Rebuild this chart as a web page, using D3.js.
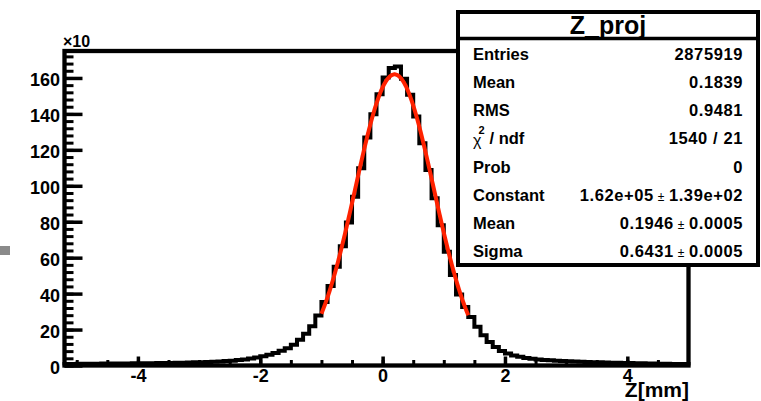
<!DOCTYPE html>
<html>
<head>
<meta charset="utf-8">
<script src="https://cdn.jsdelivr.net/npm/d3@7"></script>
<style>
body { margin: 0; background: #fff; }
svg { display: block; font-family: "Liberation Sans", Arial, Helvetica, sans-serif; font-weight: bold; }
</style>
</head>
<body>
<div id="chart"></div>
<script>
// Z_proj histogram, bins of 0.1 starting at -5.2, counts in units of 10^3
var binStart = -5.2;
var binWidth = 0.1;
var counts = [
  0.9, 0.9, 0.95, 0.95, 1.0, 1.0, 1.05, 1.05, 1.1, 1.1,
  1.15, 1.2, 1.2, 1.25, 1.3, 1.35, 1.4, 1.45, 1.5, 1.6,
  1.65, 1.75, 1.85, 1.95, 2.1, 2.25, 2.45, 2.7, 3.0, 3.4,
  3.9, 4.5, 5.2, 6.0, 7.0, 8.2, 9.6, 11.5, 14.3, 17.6,
  21.8, 27.8,
  35.4, 44.3, 54.9, 66.4, 79.6, 93.9, 109.7, 126.8, 139.8, 151.0,
  160.3, 165.6, 166.4, 159.5, 150.6, 138.5, 123.6, 108.8, 93.0, 78.1,
  63.3, 50.3, 39.5, 32.5,
  27.0, 21.5, 16.8, 13.1, 10.3, 8.1, 6.7, 5.6, 4.8, 4.2,
  3.7, 3.35, 3.1, 2.9, 2.7, 2.5, 2.35, 2.2, 2.05, 1.95,
  1.85, 1.75, 1.65, 1.55, 1.5, 1.4, 1.35, 1.3, 1.2, 1.15,
  1.1, 1.0, 0.95, 0.9, 0.85, 0.8
];

// gaussian fit: constant (x10^3), mean, sigma and fit range
var fitParams = [162, 0.1946, 0.6431];
var fitRange = [-1.0, 1.4];

var xTicks = [-4, -2, 0, 2, 4];
var yTicks = [0, 20, 40, 60, 80, 100, 120, 140, 160];

var statTitle = "Z_proj";
var statLabels = ["Entries", "Mean", "RMS", "chi2", "Prob", "Constant", "Mean", "Sigma"];
var statValues = ["2875919", "0.1839", "0.9481", "1540 / 21", "0",
                  "1.62e+05 ± 1.39e+02", "0.1946 ± 0.0005", "0.6431 ± 0.0005"];

var width = 761, height = 401;
var frame = { left: 64.5, right: 688.5, top: 51, bottom: 365.5 };

var svg = d3.select("#chart")
  .append("svg")
  .attr("width", width)
  .attr("height", height);

var x = d3.scaleLinear()
  .domain([binStart, binStart + counts.length * binWidth])
  .range([frame.left, frame.right]);

var y = d3.scaleLinear()
  .domain([0, 175])
  .range([frame.bottom, frame.top]);

// little grey pad marker on the far left
svg.append("rect")
  .attr("x", 0).attr("y", 246)
  .attr("width", 10).attr("height", 9)
  .attr("fill", "#8a8a8a");

// histogram outline
var steps = [[x.domain()[0], 0]];
counts.forEach(function (c, i) {
  steps.push([binStart + i * binWidth, c]);
});
steps.push([x.domain()[1], counts[counts.length - 1]]);
steps.push([x.domain()[1], 0]);

svg.append("path")
  .datum(steps)
  .attr("fill", "none")
  .attr("stroke", "#000")
  .attr("stroke-width", 4)
  .attr("d", d3.line()
    .x(function (d) { return x(d[0]); })
    .y(function (d) { return y(d[1]); })
    .curve(d3.curveStepAfter));

// fitted gaussian
var fitPts = d3.range(fitRange[0], fitRange[1] + 1e-9, 0.01).map(function (v) {
  var z = (v - fitParams[1]) / fitParams[2];
  return [v, fitParams[0] * Math.exp(-0.5 * z * z)];
});
svg.append("path")
  .datum(fitPts)
  .attr("fill", "none")
  .attr("stroke", "#ff2200")
  .attr("stroke-width", 4)
  .attr("d", d3.line()
    .x(function (d) { return x(d[0]); })
    .y(function (d) { return y(d[1]); }));

// x axis
var xAxis = svg.append("g")
  .attr("transform", "translate(0," + frame.bottom + ")")
  .call(d3.axisBottom(x).tickValues(xTicks).tickSizeInner(-9).tickSizeOuter(0).tickPadding(4)
    .tickFormat(function (d) { return d; }));
svg.append("g")
  .attr("transform", "translate(0," + frame.bottom + ")")
  .call(d3.axisBottom(x).tickValues(d3.range(-5, 5, 0.5)).tickSizeInner(-5.5).tickSizeOuter(0).tickFormat(""))
  .attr("class", "minor");

// y axis
var yAxis = svg.append("g")
  .attr("transform", "translate(" + frame.left + ",0)")
  .call(d3.axisLeft(y).tickValues(yTicks).tickSizeInner(-18).tickSizeOuter(0).tickPadding(4.5));
svg.append("g")
  .attr("transform", "translate(" + frame.left + ",0)")
  .call(d3.axisLeft(y).tickValues(d3.range(0, 175, 4)).tickSizeInner(-9).tickSizeOuter(0).tickFormat(""))
  .attr("class", "minor");

svg.selectAll(".domain").remove();
svg.selectAll(".tick line").attr("stroke", "#000").attr("stroke-width", 3.5);
svg.selectAll(".minor .tick line").attr("stroke-width", 3);
svg.selectAll(".tick text")
  .attr("fill", "#000")
  .style("font-size", "18px")
  .style("font-family", "Liberation Sans, Arial, sans-serif")
  .style("font-weight", "bold");
yAxis.selectAll(".tick text").attr("dy", "0.43em");

// frame
svg.append("rect")
  .attr("x", frame.left).attr("y", frame.top)
  .attr("width", frame.right - frame.left)
  .attr("height", frame.bottom - frame.top)
  .attr("fill", "none")
  .attr("stroke", "#000")
  .attr("stroke-width", 4.3);

// exponent and axis title
svg.append("text")
  .attr("x", 63).attr("y", 47)
  .style("font-size", "16px")
  .text("×10");

svg.append("text")
  .attr("x", 689).attr("y", 397)
  .attr("text-anchor", "end")
  .style("font-size", "21px")
  .text("Z[mm]");

// stats box
var box = { left: 458, right: 758, top: 12, bottom: 265, sep: 38.5 };
var stats = svg.append("g");
stats.append("rect")
  .attr("x", box.left).attr("y", box.top)
  .attr("width", box.right - box.left)
  .attr("height", box.bottom - box.top)
  .attr("fill", "#fff")
  .attr("stroke", "#000")
  .attr("stroke-width", 4);
stats.append("line")
  .attr("x1", box.left).attr("x2", box.right)
  .attr("y1", box.sep).attr("y2", box.sep)
  .attr("stroke", "#000")
  .attr("stroke-width", 3.5);
stats.append("text")
  .attr("x", (box.left + box.right) / 2).attr("y", 33.5)
  .attr("text-anchor", "middle")
  .style("font-size", "25px")
  .text(statTitle);

var rows = d3.scaleBand()
  .domain(d3.range(statLabels.length))
  .range([box.sep + 1.5, box.bottom]);

statLabels.forEach(function (lab, i) {
  var base = rows(i) + rows.bandwidth() / 2 + 6;
  var t = stats.append("text")
    .attr("x", 473).attr("y", base)
    .style("font-size", "16.5px");
  if (lab === "chi2") {
    t.append("tspan").style("font-weight", "normal").style("font-size", "16px").attr("dy", 2).text("χ");
    t.append("tspan").style("font-size", "11px").attr("dx", -3).attr("dy", -12).text("2");
    t.append("tspan").attr("dx", 5).attr("dy", 10).text("/ ndf");
  } else {
    t.text(lab);
  }

  var v = stats.append("text")
    .attr("x", 743).attr("y", base)
    .attr("text-anchor", "end")
    .style("font-size", "16.5px")
    .style("letter-spacing", "0.6px");
  var parts = statValues[i].split(" ± ");
  v.append("tspan").text(parts[0]);
  if (parts.length > 1) {
    v.append("tspan").style("font-weight", "normal").style("font-size", "12px").text(" ± ");
    v.append("tspan").text(parts[1]);
  }
});
</script>
</body>
</html>
